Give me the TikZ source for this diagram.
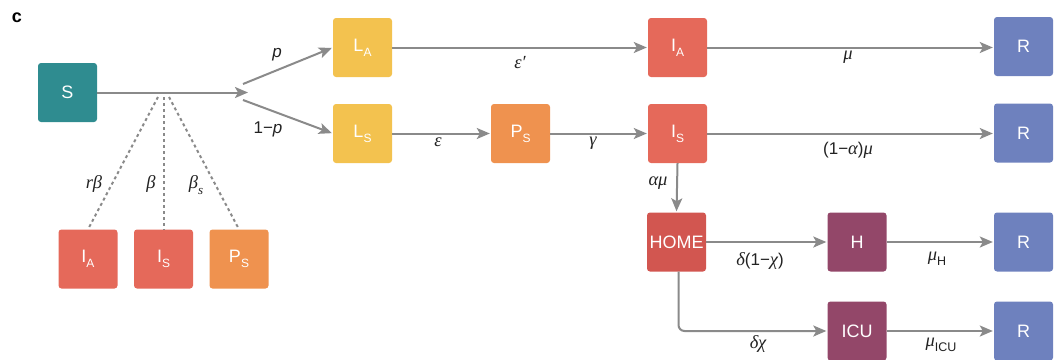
\documentclass[tikz,border=0pt]{standalone}
\usepackage{fontspec}
\setmainfont{Liberation Sans}
\newfontfamily\gkfont{Liberation Serif}
\usetikzlibrary{arrows.meta}
\definecolor{cS}{HTML}{2F8C90}
\definecolor{cL}{HTML}{F3C24F}
\definecolor{cP}{HTML}{EF924F}
\definecolor{cI}{HTML}{E5695A}
\definecolor{cHome}{HTML}{D25650}
\definecolor{cH}{HTML}{934769}
\definecolor{cR}{HTML}{6E81BE}
\definecolor{cArr}{HTML}{8A8A8A}
\definecolor{cTxt}{HTML}{222222}
\newcommand{\sub}[1]{\raisebox{-0.28em}{\fontsize{12}{12}\selectfont #1}}
\newcommand{\msub}[1]{\raisebox{-0.3em}{\fontsize{12.5}{12.5}\selectfont #1}}
\newcommand{\gk}[1]{{\gkfont\itshape\fontsize{18.5}{18.5}\selectfont #1}}
\tikzset{
  box/.style={rounded corners=3pt, minimum width=59pt, minimum height=59pt, inner sep=0pt,
    text=white, font=\fontsize{18}{18}\selectfont},
  flow/.style={draw=cArr, line width=2pt, -{Stealth[length=13pt,width=11pt,inset=3pt]}, shorten >=1pt},
  dline/.style={draw=cArr, line width=2pt, dash pattern=on 3pt off 3pt},
  lab/.style={font=\fontsize{17}{17}\selectfont, inner sep=0pt, text=cTxt}
}
\begin{document}
\begin{tikzpicture}[x=1pt,y=-1pt]
\useasboundingbox (0,0) rectangle (1056,359);
% nodes
\node[box, fill=cS] (S) at (67.5,92.5) {S};
\node[box, fill=cL] (LA) at (362.5,47.5) {L\sub{A}};
\node[box, fill=cL] (LS) at (362.5,133.5) {L\sub{S}};
\node[box, fill=cP] (PS) at (520.5,133.5) {P\sub{S}};
\node[box, fill=cI] (IA) at (677.5,47.5) {I\sub{A}};
\node[box, fill=cI] (IS) at (677.5,133.5) {I\sub{S}};
\node[box, fill=cR] (R1) at (1023.5,46.5) {R};
\node[box, fill=cR] (R2) at (1023.5,133) {R};
\node[box, fill=cHome] (HOME) at (676.5,242) {HOME};
\node[box, fill=cH] (H) at (857,242) {H};
\node[box, fill=cR] (R3) at (1023.5,242) {R};
\node[box, fill=cH] (ICU) at (857,331) {ICU};
\node[box, fill=cR] (R4) at (1023.5,331) {R};
\node[box, fill=cI] (bIA) at (88,259) {I\sub{A}};
\node[box, fill=cI] (bIS) at (163.5,259) {I\sub{S}};
\node[box, fill=cP] (bPS) at (239,259) {P\sub{S}};
\node[font=\bfseries\fontsize{18}{18}\selectfont, inner sep=0pt] (c) at (17,18) {c};
% coordinates
\coordinate (split) at (249,92.5);
\coordinate (up) at (243,84);
\coordinate (dn) at (243,100);
\coordinate (d1) at (158,97);
\coordinate (d2) at (163.5,97);
\coordinate (d3) at (169,97);
% dashed
\draw[dline] (d1) -- (bIA.north);
\draw[dline] (d2) -- (bIS.north);
\draw[dline] (d3) -- (bPS.north);
% flows
\draw[flow] (S.east) -- (split);
\draw[flow] (up) -- (LA.west);
\draw[flow] (dn) -- (LS.west);
\draw[flow] (LA) -- (IA);
\draw[flow] (LS) -- (PS);
\draw[flow] (PS) -- (IS);
\draw[flow] (IA) -- (R1.west |- IA);
\draw[flow] (IS) -- (R2.west |- IS);
\draw[flow] (IS.south) -- (HOME.north);
\draw[flow] (HOME) -- (H);
\draw[flow] (H) -- (R3);
\draw[flow, rounded corners=6pt] ([xshift=2pt]HOME.south) |- (ICU.west);
\draw[flow] (ICU) -- (R4);
% labels
\node[lab] (lp) at (277,55) {\textit{p}};
\node[lab] (l1p) at (268,129) {1−\textit{p}};
\node[lab] (lrb) at (94,184) {\gk{rβ}};
\node[lab] (lb) at (151,184) {\gk{β}};
\node[lab] (lbs) at (196,185) {\gk{β}\raisebox{-0.3em}{\gk{\fontsize{13}{13}\selectfont s}}};
\node[lab] (leps1) at (520,63) {\gk{ε′}};
\node[lab] (leps) at (438,142) {\gk{ε}};
\node[lab] (lgam) at (593,143) {\gk{γ}};
\node[lab] (lmu) at (848,57) {\gk{μ}};
\node[lab] (lamu1) at (848,150) {(1−\gk{α})\gk{μ}};
\node[lab] (lamu) at (658,183) {\gk{αμ}};
\node[lab] (ldchi1) at (760,261) {\gk{δ}(1−\gk{χ})};
\node[lab] (lmuH) at (937,259) {\gk{μ}\msub{H}};
\node[lab] (ldchi) at (758,344) {\gk{δχ}};
\node[lab] (lmuI) at (941,345) {\gk{μ}\msub{ICU}};
\end{tikzpicture}
\end{document}
